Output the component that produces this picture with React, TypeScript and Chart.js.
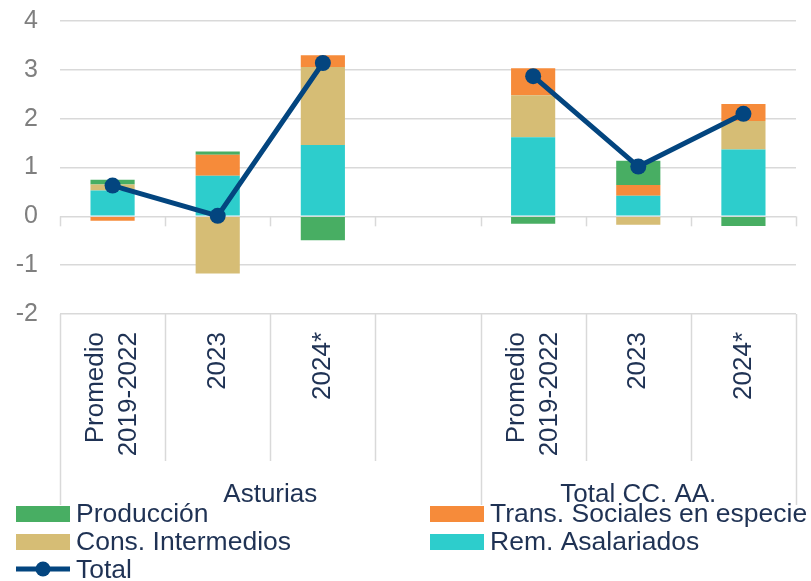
import React, { useEffect, useRef } from "react";
import { Chart, registerables } from "chart.js";

Chart.register(...registerables);

// ---- data ----
const categories: (string | string[])[] = [
  ["Promedio", "2019-2022"], "2023", "2024*", "",
  ["Promedio", "2019-2022"], "2023", "2024*",
];
const groupLabels = ["Asturias", "Total CC. AA."];
const groupSpans = [4, 3];

const produccion = [0.1, 0.07, -0.49, null, -0.15, 0.5, -0.2];
const transSociales = [-0.09, 0.43, 0.24, null, 0.55, 0.22, 0.35];
const consIntermedios = [0.12, -1.17, 1.6, null, 0.86, -0.17, 0.58];
const remAsalariados = [0.53, 0.83, 1.46, null, 1.62, 0.42, 1.37];
const total = [0.63, 0.01, 3.14, null, 2.87, 1.02, 2.1];

const yTicks = [-2, -1, 0, 1, 2, 3, 4];

// ---- styles ----
const FONT = "'Liberation Sans', Arial, sans-serif";
const GRID = "#d9d9d9";
const TEXT = "#1f3254";
const TICK_TEXT = "#7f7f7f";
const C_PROD = "#48ae63";
const C_TRANS = "#f68b3a";
const C_CONS = "#d6bd75";
const C_REM = "#2dcdcc";
const C_TOTAL = "#03457f";

const customPlugin = {
  id: "customAxisLegend",
  beforeDatasetsDraw(chart: any) {
    const { ctx, scales } = chart;
    const x = scales.x;
    const y = scales.y;
    const zeroY = y.getPixelForValue(0);
    const step = x.getPixelForValue(1) - x.getPixelForValue(0);
    const start = x.getPixelForValue(0) - step / 2;
    ctx.save();
    ctx.strokeStyle = GRID;
    ctx.lineWidth = 1.5;
    for (let k = 0; k <= categories.length; k++) {
      const px = Math.round(start + k * step) + 0.5;
      ctx.beginPath();
      ctx.moveTo(px, zeroY);
      ctx.lineTo(px, zeroY + 10);
      ctx.stroke();
    }
    ctx.restore();
  },
  afterDraw(chart: any) {
    const { ctx, scales } = chart;
    const x = scales.x;
    const step = x.getPixelForValue(1) - x.getPixelForValue(0);
    const start = x.getPixelForValue(0) - step / 2;
    const top = x.top;
    const bottom = x.bottom;
    ctx.save();
    // divider lines
    const outer = new Set<number>([0]);
    let acc = 0;
    groupSpans.forEach((s) => { acc += s; outer.add(acc); });
    ctx.strokeStyle = GRID;
    ctx.lineWidth = 1.5;
    for (let k = 0; k <= categories.length; k++) {
      const px = Math.round(start + k * step) + 0.5;
      ctx.beginPath();
      ctx.moveTo(px, top);
      ctx.lineTo(px, outer.has(k) ? bottom : top + 147);
      ctx.stroke();
    }
    // rotated category labels
    ctx.fillStyle = TEXT;
    ctx.font = `26px ${FONT}`;
    const lh = 33;
    categories.forEach((lab, i) => {
      const lines = Array.isArray(lab) ? lab : [lab];
      if (!lines.join("")) return;
      const cx = x.getPixelForValue(i);
      ctx.save();
      ctx.translate(cx, top + 18);
      ctx.rotate(-Math.PI / 2);
      ctx.textAlign = "right";
      ctx.textBaseline = "middle";
      lines.forEach((ln, j) => {
        ctx.fillText(ln, 0, (j - (lines.length - 1) / 2) * lh);
      });
      ctx.restore();
    });
    // group labels
    ctx.textAlign = "center";
    ctx.textBaseline = "alphabetic";
    let s0 = 0;
    groupLabels.forEach((g, gi) => {
      const s1 = s0 + groupSpans[gi];
      const left = start + s0 * step;
      const right = start + Math.min(s1, categories.length) * step;
      ctx.fillText(g, (left + right) / 2, bottom - 3);
      s0 = s1;
    });
    // legend
    const colX = [16, 430];
    const rowBase = [522, 550, 578];
    ctx.textAlign = "left";
    chart.data.datasets.forEach((ds: any, i: number) => {
      const cx = colX[i % 2];
      const base = rowBase[Math.floor(i / 2)];
      if (ds.type === "line") {
        const my = base - 9;
        ctx.strokeStyle = ds.borderColor;
        ctx.lineWidth = 5;
        ctx.beginPath();
        ctx.moveTo(cx, my);
        ctx.lineTo(cx + 54, my);
        ctx.stroke();
        ctx.fillStyle = ds.borderColor;
        ctx.beginPath();
        ctx.arc(cx + 27, my, 7.5, 0, Math.PI * 2);
        ctx.fill();
      } else {
        ctx.fillStyle = ds.backgroundColor;
        ctx.fillRect(cx, base - 16, 54, 16);
      }
      ctx.fillStyle = TEXT;
      ctx.font = `26.5px ${FONT}`;
      ctx.fillText(ds.label, cx + 60, base);
    });
    ctx.restore();
  },
};

export default function App() {
  const ref = useRef<HTMLCanvasElement | null>(null);
  useEffect(() => {
    if (!ref.current) return;
    const labels = categories.map((c) => (Array.isArray(c) ? c.join(" ") : c));
    const bar = (label: string, data: any[], color: string, order: number) => ({
      type: "bar" as const,
      label,
      data,
      backgroundColor: color,
      borderWidth: 0,
      barPercentage: 0.42,
      categoryPercentage: 1,
      stack: "bars",
      order,
    });
    const chart = new Chart(ref.current, {
      type: "bar",
      data: {
        labels,
        datasets: [
          bar("Producción", produccion, C_PROD, 4),
          bar("Trans. Sociales en especie", transSociales, C_TRANS, 3),
          bar("Cons. Intermedios", consIntermedios, C_CONS, 2),
          bar("Rem. Asalariados", remAsalariados, C_REM, 1),
          {
            type: "line" as const,
            label: "Total",
            data: total,
            borderColor: C_TOTAL,
            backgroundColor: C_TOTAL,
            borderWidth: 5,
            pointRadius: 8,
            pointBorderWidth: 0,
            pointBackgroundColor: C_TOTAL,
            spanGaps: false,
            stack: "total",
            order: 0,
          } as any,
        ],
      },
      options: {
        animation: false,
        responsive: false,
        layout: { padding: { top: 21, left: 0, right: 15, bottom: 76 } },
        plugins: { legend: { display: false }, tooltip: { enabled: false } },
        scales: {
          x: {
            type: "category",
            stacked: true,
            offset: true,
            grid: { display: false },
            border: { display: false },
            ticks: { display: false },
            afterFit: (s: any) => { s.height = 191; s.paddingLeft = 0; s.paddingRight = 0; },
          },
          y: {
            stacked: true,
            min: -2,
            max: 4,
            afterBuildTicks: (s: any) => { s.ticks = yTicks.map((v) => ({ value: v })); },
            ticks: {
              font: { family: FONT, size: 25 },
              color: TICK_TEXT,
              padding: 22,
            },
            grid: { color: GRID, lineWidth: 1.5, drawTicks: false },
            border: { display: false },
            afterFit: (s: any) => { s.width = 60; s.paddingTop = 0; s.paddingBottom = 0; },
          },
        },
      },
      plugins: [customPlugin],
    });
    return () => chart.destroy();
  }, []);
  return (
    <div style={{ position: "fixed", left: 0, top: 0, width: 811, height: 581, background: "#fff" }}>
      <canvas ref={ref} width={811} height={581} style={{ width: 811, height: 581, display: "block" }} />
    </div>
  );
}
